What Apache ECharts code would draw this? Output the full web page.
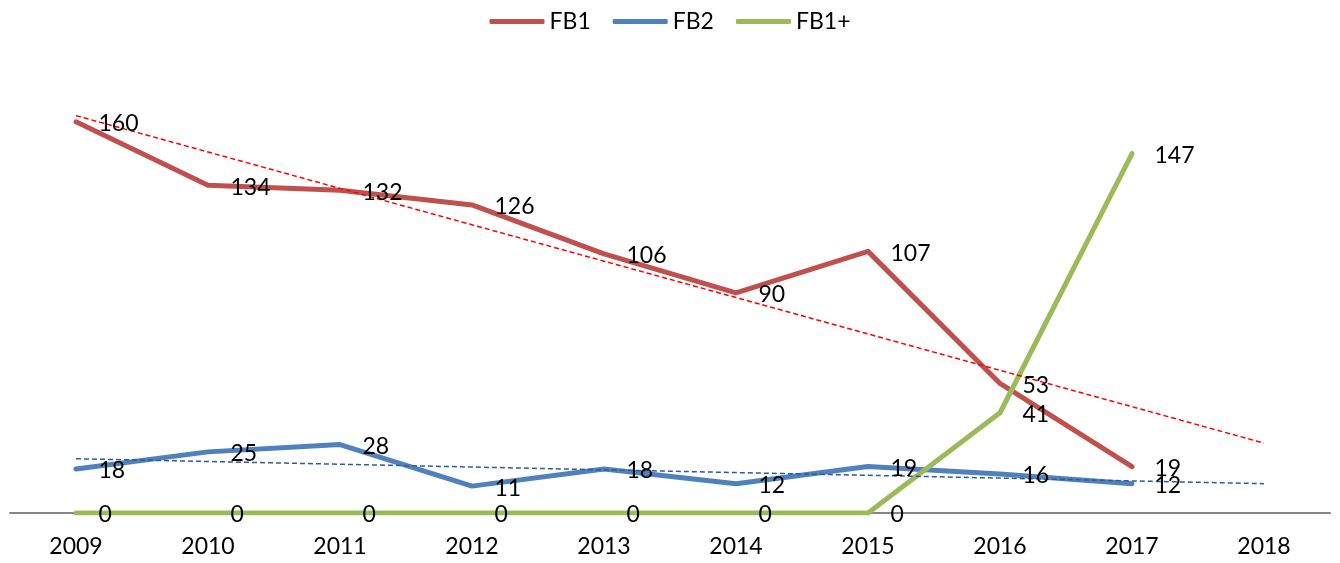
<!DOCTYPE html>
<html>
<head>
<meta charset="utf-8">
<script src="https://cdn.jsdelivr.net/npm/echarts@6/dist/echarts.min.js"></script>
<style>html,body{margin:0;padding:0;background:#fff}#c{width:1340px;height:563px}</style>
</head>
<body>
<div id="c"></div>
<script>
const years = ['2009','2010','2011','2012','2013','2014','2015','2016','2017','2018'];
const fb1 = [160,134,132,126,106,90,107,53,19,null];
const fb2 = [18,25,28,11,18,12,19,16,12,null];
const fb1plus = [0,0,0,0,0,0,0,41,147,null];

function trend(vals){
  const pts = vals.map((v,i)=>[i,v]).filter(p=>p[1]!=null);
  const n = pts.length;
  const mx = pts.reduce((s,p)=>s+p[0],0)/n, my = pts.reduce((s,p)=>s+p[1],0)/n;
  let sxy=0,sxx=0; pts.forEach(p=>{sxy+=(p[0]-mx)*(p[1]-my);sxx+=(p[0]-mx)*(p[0]-mx);});
  const b=sxy/sxx, a=my-b*mx;
  return years.map((_,i)=>+(a+b*i).toFixed(3));
}

const FONT = 'Lato';
const lbl = {show:true, position:'right', distance:22, offset:[0,2], color:'#000', fontFamily:FONT, fontSize:23, opacity:1};
function mainSeries(name,data,color){
  return {name, type:'line', data, symbol:'circle', symbolSize:1, showSymbol:true,
    itemStyle:{color}, lineStyle:{color, width:5, cap:'round', join:'round'},
    label:lbl, emphasis:{disabled:true}, animation:false};
}
const chart = echarts.init(document.getElementById('c'));
chart.setOption({
  animation:false,
  backgroundColor:'#fff',
  legend:{data:['FB1','FB2','FB1+'], top:5, left:'center', icon:'roundRect', itemWidth:55, itemHeight:5, itemGap:22,
    textStyle:{fontFamily:FONT, fontSize:23, color:'#000'}},
  grid:{left:10, right:10, top:24, bottom:50},
  xAxis:{type:'category', data:years, boundaryGap:true,
    axisLine:{lineStyle:{color:'#868686', width:2}}, axisTick:{show:false},
    axisLabel:{fontFamily:FONT, fontSize:23, color:'#000', margin:22}},
  yAxis:{type:'value', min:0, max:200, show:false, splitLine:{show:false}},
  series:[
    mainSeries('FB1', fb1, '#C0504D'),
    mainSeries('FB2', fb2, '#4F81BD'),
    mainSeries('FB1+', fb1plus, '#9BBB59'),
    {name:'FB1 trend', type:'line', data:trend(fb1), showSymbol:false, symbol:'none',
      lineStyle:{color:'#FF0000', width:1.5, type:[5,3]}, silent:true},
    {name:'FB2 trend', type:'line', data:trend(fb2), showSymbol:false, symbol:'none',
      lineStyle:{color:'#2E5C96', width:1.5, type:[5,3]}, silent:true}
  ]
});
</script>
</body>
</html>
